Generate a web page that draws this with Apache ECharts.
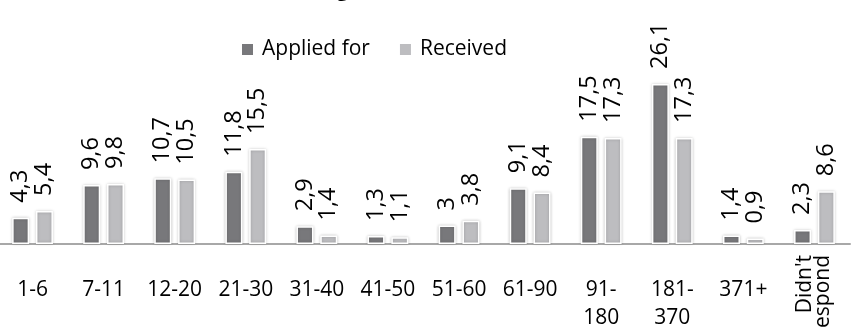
<!DOCTYPE html>
<html>
<head>
<meta charset="utf-8">
<script src="https://cdn.jsdelivr.net/npm/echarts@6/dist/echarts.min.js"></script>
<style>
  html, body { margin: 0; padding: 0; background: #fff; }
  #chart { width: 851px; height: 327px; }
</style>
</head>
<body>
<div id="chart"></div>
<script>
// Duration bands (days)
const categories = ['1-6', '7-11', '12-20', '21-30', '31-40', '41-50', '51-60', '61-90', '91-\n180', '181-\n370', '371+', "Didn't\nrespond"];
// Share of respondents (%)
const appliedFor = [4.3, 9.6, 10.7, 11.8, 2.9, 1.3, 3, 9.1, 17.5, 26.1, 1.4, 2.3];
const received   = [5.4, 9.8, 10.5, 15.5, 1.4, 1.1, 3.8, 8.4, 17.3, 17.3, 0.9, 8.6];
const seriesNames = ['Applied for', 'Received'];
const titleText = 'Length of sick leave (%)';

const FONT = '"Open Sans", sans-serif';
const lastIdx = categories.length - 1;

const chart = echarts.init(document.getElementById('chart'), null, { renderer: 'canvas' });

function barSeries(name, data, color) {
  return {
    name: name,
    type: 'bar',
    data: data,
    barWidth: 17,
    barGap: '40%',
    itemStyle: {
      color: color,
      borderColor: '#ffffff',
      borderWidth: 1.5,
      shadowBlur: 3,
      shadowColor: 'rgba(0,0,0,0.22)'
    },
    label: {
      show: true,
      position: 'top',
      rotate: 90,
      align: 'left',
      verticalAlign: 'middle',
      distance: 15,
      color: '#000',
      fontFamily: FONT,
      fontSize: 23.5,
      formatter: p => String(p.value).replace('.', ',')
    }
  };
}

chart.setOption({
  animation: false,
  backgroundColor: '#ffffff',
  title: {
    text: titleText,
    left: 'center',
    top: -26.5,
    textStyle: { fontFamily: FONT, fontWeight: 'bold', fontSize: 22, color: '#000' }
  },
  legend: {
    data: seriesNames,
    left: 235,
    top: 34,
    icon: 'rect',
    itemWidth: 13,
    itemHeight: 13,
    itemGap: 28,
    textStyle: { fontFamily: FONT, fontSize: 21, color: '#000', padding: [0, 0, 0, 3] }
  },
  grid: { left: -3, right: 1, top: 60, bottom: 83, containLabel: false, outerBoundsMode: 'none' },
  xAxis: [
    {
      type: 'category',
      data: categories,
      axisLine: { lineStyle: { color: '#a8a8a8', width: 2 } },
      axisTick: { show: false },
      axisLabel: {
        interval: 0,
        margin: 32,
        fontFamily: FONT,
        fontSize: 21,
        lineHeight: 28,
        color: '#000',
        formatter: (v, i) => (i === lastIdx ? '' : v)
      }
    },
    {
      type: 'category',
      data: categories,
      position: 'bottom',
      axisLine: { show: false },
      axisTick: { show: false },
      axisLabel: {
        interval: 0,
        rotate: 90,
        margin: 11,
        fontFamily: FONT,
        fontSize: 21,
        lineHeight: 18,
        color: '#000',
        formatter: (v, i) => (i === lastIdx ? v : '')
      }
    }
  ],
  yAxis: { type: 'value', min: 0, max: 30, show: false, splitLine: { show: false } },
  series: [
    barSeries(seriesNames[0], appliedFor, '#78787b'),
    barSeries(seriesNames[1], received, '#bdbdc0')
  ]
});
</script>
</body>
</html>
